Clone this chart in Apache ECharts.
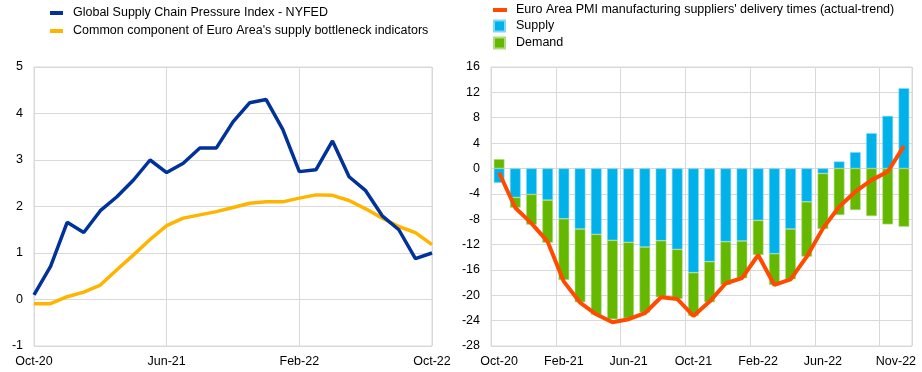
<!DOCTYPE html>
<html><head><meta charset="utf-8">
<script src="https://cdn.jsdelivr.net/npm/echarts@6/dist/echarts.min.js"></script>
<style>html,body{margin:0;padding:0;background:#fff}#c{width:922px;height:372px}</style>
</head><body><div id="c"></div>
<script>
const leftCats = ['Oct-20','Nov-20','Dec-20','Jan-21','Feb-21','Mar-21','Apr-21','May-21','Jun-21','Jul-21','Aug-21','Sep-21','Oct-21','Nov-21','Dec-21','Jan-22','Feb-22','Mar-22','Apr-22','May-22','Jun-22','Jul-22','Aug-22','Sep-22','Oct-22'];
const gscpi = [0.10,0.71,1.66,1.44,1.91,2.21,2.57,3.00,2.73,2.93,3.26,3.26,3.82,4.23,4.30,3.66,2.75,2.79,3.41,2.64,2.34,1.80,1.50,0.88,1.00];
const commonComp = [-0.09,-0.09,0.06,0.16,0.31,0.64,0.96,1.29,1.59,1.75,1.82,1.89,1.98,2.07,2.10,2.10,2.18,2.25,2.24,2.13,1.95,1.75,1.57,1.44,1.18];

const rightCats = ['Oct-20','Nov-20','Dec-20','Jan-21','Feb-21','Mar-21','Apr-21','May-21','Jun-21','Jul-21','Aug-21','Sep-21','Oct-21','Nov-21','Dec-21','Jan-22','Feb-22','Mar-22','Apr-22','May-22','Jun-22','Jul-22','Aug-22','Sep-22','Oct-22','Nov-22'];
const supply = [-2.26,-4.57,-4.09,-4.99,-7.93,-9.55,-10.39,-11.34,-11.65,-12.39,-11.39,-12.76,-16.43,-14.70,-11.55,-11.44,-8.19,-13.44,-9.55,-5.25,-0.79,1.10,2.57,5.56,8.29,12.65];
const demand = [1.47,-1.62,-4.78,-6.72,-9.66,-11.55,-12.70,-12.44,-11.97,-10.34,-8.92,-7.82,-6.82,-6.40,-6.82,-5.88,-5.46,-4.93,-7.93,-8.66,-8.76,-7.35,-6.56,-7.51,-8.82,-9.19];
const pmiDelivery = [-0.68,-6.20,-8.66,-11.55,-17.85,-21.15,-23.00,-24.25,-23.78,-22.83,-20.31,-20.58,-23.25,-21.00,-18.10,-17.30,-13.65,-18.37,-17.48,-13.91,-9.45,-6.04,-3.67,-1.84,-0.52,3.52];

const leftNames = ['Global Supply Chain Pressure Index - NYFED', "Common component of Euro Area's supply bottleneck indicators"];
const rightLineName = "Euro Area PMI manufacturing suppliers' delivery times (actual-trend)";
const rightBarNames = ['Supply','Demand'];

const FONT = 'Liberation Sans, Arial, sans-serif';
const GRID = '#d9d9d9';
const txt = {color:'#000', fontFamily:FONT, fontSize:12.5};

const chart = echarts.init(document.getElementById('c'), null, {renderer:'canvas'});
chart.setOption({
  animation:false,
  textStyle:{fontFamily:FONT},
  legend:[
    {data:leftNames, orient:'vertical', left:50, top:6, padding:0, itemGap:4, itemWidth:13, itemHeight:4, icon:'rect',
     textStyle:Object.assign({lineHeight:14, padding:[0,0,0,5]}, txt)},
    {data:[rightLineName], orient:'vertical', left:493, top:3, padding:0, itemWidth:14, itemHeight:4, icon:'rect',
     textStyle:Object.assign({lineHeight:14, padding:[0,0,0,4]}, txt)},
    {data:rightBarNames, orient:'vertical', left:493, top:19, padding:0, itemGap:3, itemWidth:11, itemHeight:11, icon:'rect',
     textStyle:Object.assign({lineHeight:14, padding:[0,0,0,6]}, txt)}
  ],
  grid:[
    {left:34, top:67, width:398, height:279, show:true, borderColor:GRID, borderWidth:1, backgroundColor:'transparent', containLabel:false},
    {left:491, top:67, width:421, height:279, show:true, borderColor:GRID, borderWidth:1, backgroundColor:'transparent', containLabel:false}
  ],
  xAxis:[
    {type:'category', gridIndex:0, data:leftCats, boundaryGap:false,
     axisLine:{show:false}, axisTick:{show:false},
     axisLabel:Object.assign({interval:7, margin:9}, txt),
     splitLine:{show:true, interval:7, lineStyle:{color:GRID, width:1}}},
    {type:'category', gridIndex:1, data:rightCats, boundaryGap:true,
     axisLine:{show:false}, axisTick:{show:false, interval:3},
     axisLabel:Object.assign({
       interval:function(i){return (i<24 && i%4===0) || i===25;},
       margin:9,
       formatter:function(v,i){return i===25 ? '{r|'+v+'}' : v;},
       rich:{r:{padding:[0,16,0,0], color:'#000', fontFamily:FONT, fontSize:12.5}}
     }, txt),
     splitLine:{show:true, interval:3, lineStyle:{color:GRID, width:1}}}
  ],
  yAxis:[
    {type:'value', gridIndex:0, min:-1, max:5, interval:1,
     axisLine:{show:false}, axisTick:{show:false},
     axisLabel:Object.assign({margin:11}, txt),
     splitLine:{show:true, lineStyle:{color:GRID, width:1}}},
    {type:'value', gridIndex:1, min:-28, max:16, interval:4,
     axisLine:{show:false}, axisTick:{show:false},
     axisLabel:Object.assign({margin:11}, txt),
     splitLine:{show:true, lineStyle:{color:GRID, width:1}}}
  ],
  series:[
    {name:leftNames[0], type:'line', xAxisIndex:0, yAxisIndex:0, data:gscpi, showSymbol:false, symbol:'none',
     itemStyle:{color:'#003299'}, lineStyle:{color:'#003299', width:3.5}, z:4},
    {name:leftNames[1], type:'line', xAxisIndex:0, yAxisIndex:0, data:commonComp, showSymbol:false, symbol:'none',
     itemStyle:{color:'#ffb400'}, lineStyle:{color:'#ffb400', width:3.5}, z:3},
    {name:rightBarNames[0], type:'bar', xAxisIndex:1, yAxisIndex:1, data:supply, stack:'sd', barCategoryGap:'34%',
     itemStyle:{color:'#00b1ea', borderColor:'#7fd8f4', borderWidth:0.6}},
    {name:rightBarNames[1], type:'bar', xAxisIndex:1, yAxisIndex:1, data:demand, stack:'sd', barCategoryGap:'34%',
     itemStyle:{color:'#65b800', borderColor:'#b2db80', borderWidth:0.6}},
    {name:rightLineName, type:'line', xAxisIndex:1, yAxisIndex:1, data:pmiDelivery, showSymbol:false, symbol:'none',
     itemStyle:{color:'#ff4b00'}, lineStyle:{color:'#ff4b00', width:4}, z:5}
  ]
});
</script></body></html>
